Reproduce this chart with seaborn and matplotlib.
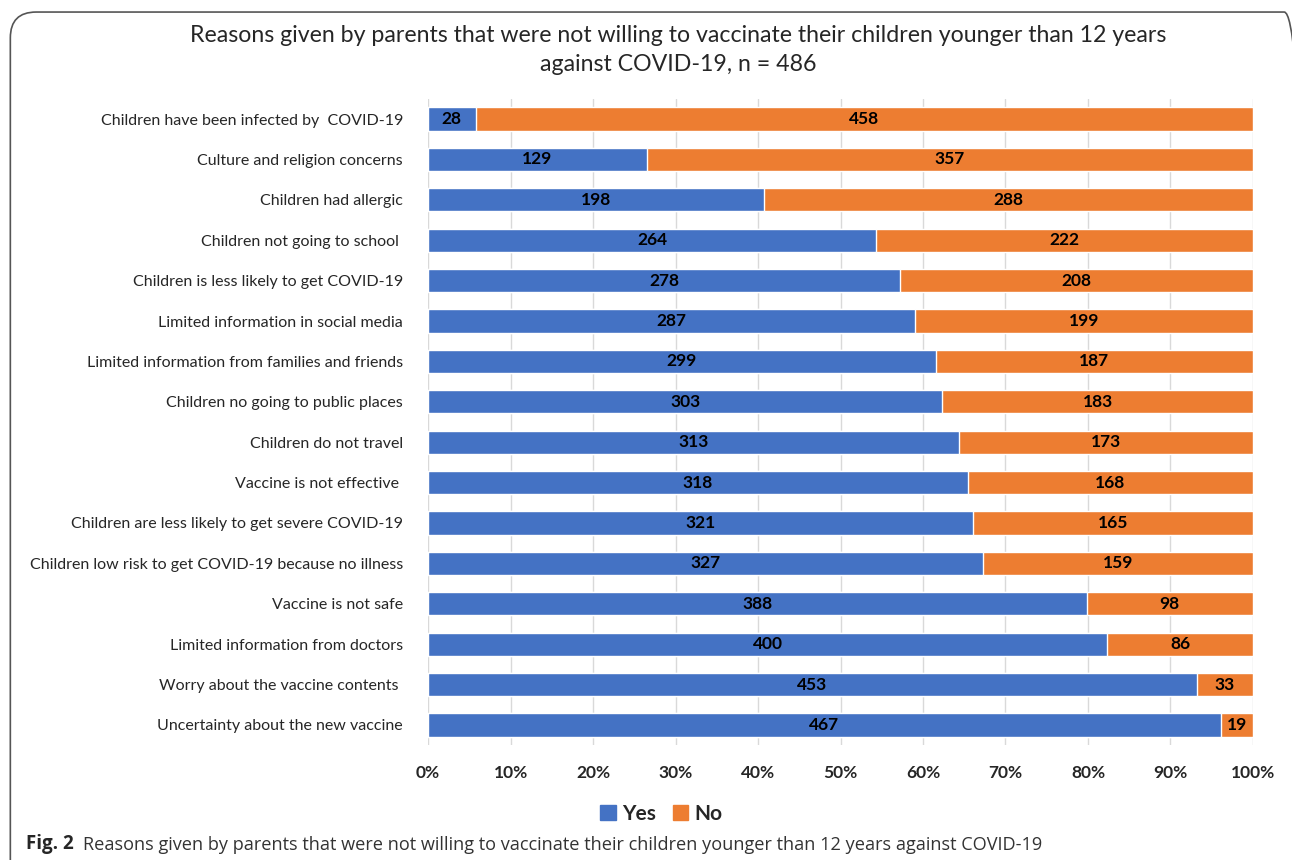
import pandas as pd
import matplotlib.pyplot as plt
import seaborn as sns
from matplotlib.patches import Patch, FancyBboxPatch

# data
reasons = [
    "Children have been infected by  COVID-19",
    "Culture and religion concerns",
    "Children had allergic",
    "Children not going to school ",
    "Children is less likely to get COVID-19",
    "Limited information in social media",
    "Limited information from families and friends",
    "Children no going to public places",
    "Children do not travel",
    "Vaccine is not effective ",
    "Children are less likely to get severe COVID-19",
    "Children low risk to get COVID-19 because no illness",
    "Vaccine is not safe",
    "Limited information from doctors",
    "Worry about the vaccine contents ",
    "Uncertainty about the new vaccine",
]
yes = [28, 129, 198, 264, 278, 287, 299, 303, 313, 318, 321, 327, 388, 400, 453, 467]
no = [458, 357, 288, 222, 208, 199, 187, 183, 173, 168, 165, 159, 98, 86, 33, 19]
tick_labels = ["0%", "10%", "20%", "30%", "40%", "50%", "60%", "70%", "80%", "90%", "100%"]

df = pd.DataFrame({"reason": reasons, "yes": yes, "no": no})
df["total"] = df["yes"] + df["no"]
df["yes_pct"] = df["yes"] / df["total"] * 100
df["all_pct"] = 100.0

blue = "#4472C4"
orange = "#ED7D31"

sns.set_style("white")
plt.rcParams["font.family"] = ["Lato", "DejaVu Sans"]

fig = plt.figure(figsize=(12.92, 8.6), dpi=100)
ax = fig.add_axes([0.3313, 0.1335, 0.6385, 0.7516])

# stacked 100% bars: full orange bar, then blue share on top
sns.barplot(data=df, y="reason", x="all_pct", color=orange, orient="h",
            width=0.57, saturation=1, ax=ax, zorder=3)
sns.barplot(data=df, y="reason", x="yes_pct", color=blue, orient="h",
            width=0.57, saturation=1, ax=ax, zorder=3)

for i, row in df.iterrows():
    ax.text(row["yes_pct"] / 2, i, str(row["yes"]), ha="center", va="center",
            fontsize=12.5, fontweight="bold", color="black", zorder=4)
    ax.text(row["yes_pct"] + (100 - row["yes_pct"]) / 2, i, str(row["no"]),
            ha="center", va="center", fontsize=12.5, fontweight="bold",
            color="black", zorder=4)

ax.set_xlim(0, 100)
ax.set_xticks(range(0, 101, 10))
ax.set_xticklabels(tick_labels, fontsize=12.5, fontweight="bold")
ax.xaxis.grid(True, color="#D9D9D9", linewidth=1, zorder=0)
ax.set_axisbelow(True)
ax.set_xlabel("")
ax.set_ylabel("")
ax.tick_params(axis="y", length=0, labelsize=11.5, pad=18)
ax.tick_params(axis="x", length=0, pad=14)
for s in ax.spines.values():
    s.set_visible(False)

fig.text(0.525, 0.971, "Reasons given by parents that were not willing to vaccinate their children younger than 12 years\nagainst COVID-19, n = 486",
         ha="center", va="top", fontsize=16.7, linespacing=1.45)

handles = [Patch(color=blue, label="Yes"), Patch(color=orange, label="No")]
fig.legend(handles=handles, loc="center", bbox_to_anchor=(0.512, 0.054), ncol=2,
           frameon=False, prop={"weight": "bold", "size": 15},
           handlelength=0.75, handleheight=0.75, handletextpad=0.3, columnspacing=0.8)

# rounded frame around the chart (right edge just outside the picture)
frame = FancyBboxPatch((0.008, -0.05), 1.006, 1.036, boxstyle="round,pad=0,rounding_size=0.02",
                       transform=fig.transFigure, fill=False, edgecolor="#555555",
                       linewidth=1.2, mutation_aspect=1.5)
fig.add_artist(frame)

# caption below the chart
cap = fig.text(0.020, 0.013, "Fig. 2", fontsize=13.5, fontweight="bold", ha="left", va="baseline",
               family=["Open Sans", "DejaVu Sans"])
ax.annotate("Reasons given by parents that were not willing to vaccinate their children younger than 12 years against COVID-19",
            xy=(1, 0), xycoords=cap, xytext=(7, 0), textcoords="offset points",
            fontsize=13.1, va="bottom", ha="left", family=["Open Sans", "DejaVu Sans"],
            color="#333333", annotation_clip=False)

fig.savefig("out.png", dpi=100)
